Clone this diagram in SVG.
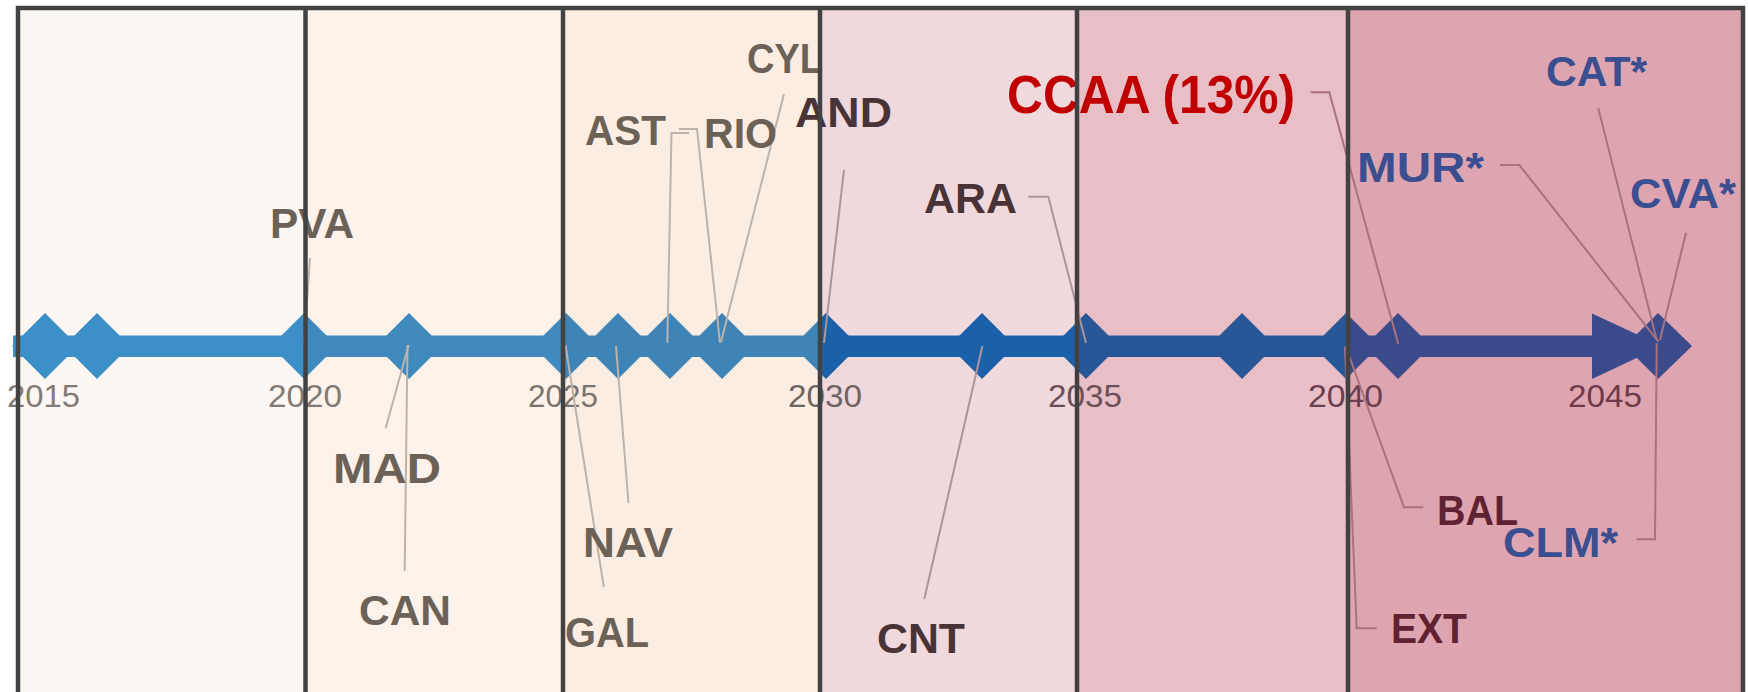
<svg xmlns="http://www.w3.org/2000/svg" width="1748" height="692" viewBox="0 0 1748 692">
<style>
.yr{font-family:"Liberation Sans",Arial,sans-serif;font-size:31px;}
.lb{font-family:"Liberation Sans",Arial,sans-serif;font-size:43px;font-weight:bold;}
.g1{fill:#6b6157}.g2{fill:#4a3337}.g3{fill:#5e2232}.bl{fill:#3a4e90}.rd{fill:#c00000}
.ld{fill:none;stroke-width:2;stroke-linejoin:miter}
.l1{stroke:#bcb3aa}.l2{stroke:#a9959a}.l3{stroke:#a8727f}
.frame{fill:none;stroke:#424242;stroke-width:4.5}
</style>
<defs>
<linearGradient id="tl" gradientUnits="userSpaceOnUse" x1="0" y1="0" x2="1748" y2="0">
<stop offset="0" stop-color="#3d8fc7"/><stop offset="0.1748" stop-color="#3d8fc7"/>
<stop offset="0.1748" stop-color="#3f89bd"/><stop offset="0.3221" stop-color="#3f89bd"/>
<stop offset="0.3221" stop-color="#3e84b6"/><stop offset="0.4691" stop-color="#3e84b6"/>
<stop offset="0.4691" stop-color="#1a61aa"/><stop offset="0.6161" stop-color="#1a61aa"/>
<stop offset="0.6161" stop-color="#285798"/><stop offset="0.7712" stop-color="#285798"/>
<stop offset="0.7712" stop-color="#3a4a8a"/><stop offset="1" stop-color="#3a4a8a"/>
</linearGradient>
</defs>
<rect x="0" y="0" width="1748" height="692" fill="#ffffff"/>
<g id="panels">
<rect x="18" y="8" width="287.5" height="700" fill="#fdf7f3"/>
<rect x="305.5" y="8" width="257.5" height="700" fill="#fdf2e9"/>
<rect x="563" y="8" width="257" height="700" fill="#fcede2"/>
<rect x="820" y="8" width="257" height="700" fill="#f0d9dd"/>
<rect x="1077" y="8" width="271" height="700" fill="#e8bfc6"/>
<rect x="1348" y="8" width="395" height="700" fill="#dea5b0"/>
</g>
<g id="timeline" fill="url(#tl)">
<rect x="13" y="335.5" width="1580" height="21.5"/>
<polygon points="12,346 45,313 78,346 45,379"/>
<polygon points="64,346 97,313 130,346 97,379"/>
<polygon points="271,346 304,313 337,346 304,379"/>
<polygon points="376,346 409,313 442,346 409,379"/>
<polygon points="533,346 566,313 599,346 566,379"/>
<polygon points="585,346 618,313 651,346 618,379"/>
<polygon points="637,346 670,313 703,346 670,379"/>
<polygon points="689,346 722,313 755,346 722,379"/>
<polygon points="793,346 826,313 859,346 826,379"/>
<polygon points="949,346 982,313 1015,346 982,379"/>
<polygon points="1053,346 1086,313 1119,346 1086,379"/>
<polygon points="1209,346 1242,313 1275,346 1242,379"/>
<polygon points="1313,346 1346,313 1379,346 1346,379"/>
<polygon points="1365,346 1398,313 1431,346 1398,379"/>
<polygon points="1592,313.5 1662,346 1592,379"/>
<polygon points="1625,346 1658,313 1692,346 1658,379"/>
</g>
<g id="years" class="yr">
<text x="7" y="407" textLength="73" lengthAdjust="spacingAndGlyphs" fill="#807b77">2015</text>
<text x="268" y="407" textLength="74" lengthAdjust="spacingAndGlyphs" fill="#807a75">2020</text>
<text x="528" y="407" textLength="70" lengthAdjust="spacingAndGlyphs" fill="#7b746e">2025</text>
<text x="788" y="407" textLength="74" lengthAdjust="spacingAndGlyphs" fill="#6e6462">2030</text>
<text x="1048" y="407" textLength="74" lengthAdjust="spacingAndGlyphs" fill="#6b4f56">2035</text>
<text x="1308" y="407" textLength="75" lengthAdjust="spacingAndGlyphs" fill="#6a4050">2040</text>
<text x="1568" y="407" textLength="74" lengthAdjust="spacingAndGlyphs" fill="#6e3a4c">2045</text>
</g>
<g id="connectors">
<polyline class="ld l1" points="310,258 304,345"/>
<polyline class="ld l1" points="385.7,428 408.7,345"/>
<polyline class="ld l1" points="404.7,571 407.5,345"/>
<polyline class="ld l1" points="628.5,503 616,346"/>
<polyline class="ld l1" points="603.8,587 565.4,345"/>
<polyline class="ld l1" points="667.3,343 671.5,133 689,133"/>
<polyline class="ld l1" points="679,129 697,129 720,343"/>
<polyline class="ld l1" points="784,94 721,342"/>
<polyline class="ld l2" points="844,170 824,343"/>
<polyline class="ld l2" points="924.3,599 982.4,346"/>
<polyline class="ld l2" points="1028.3,196.7 1048.3,196.7 1086,343"/>
<polyline class="ld l3" points="1310.7,92.3 1329.3,92.3 1398.3,344"/>
<polyline class="ld l3" points="1500,165 1519.3,165 1658.3,341.7"/>
<polyline class="ld l3" points="1598.3,108.3 1656.7,340"/>
<polyline class="ld l3" points="1686,232.7 1660,340"/>
<polyline class="ld l3" points="1423.3,507.3 1404,507.3 1347,350"/>
<polyline class="ld l3" points="1636.7,539.3 1655,539.3 1656.7,343.3"/>
<polyline class="ld l3" points="1376.7,628.3 1356.7,628.3 1345,346.7"/>
</g>
<g id="PVA"><text class="lb g1" x="270" y="238" textLength="84" lengthAdjust="spacingAndGlyphs">PVA</text></g>
<g id="MAD"><text class="lb g1" x="333" y="483" textLength="108" lengthAdjust="spacingAndGlyphs">MAD</text></g>
<g id="CAN"><text class="lb g1" x="359" y="625" textLength="92" lengthAdjust="spacingAndGlyphs">CAN</text></g>
<g id="NAV"><text class="lb g1" x="583" y="557" textLength="90" lengthAdjust="spacingAndGlyphs">NAV</text></g>
<g id="GAL"><text class="lb g1" x="565" y="647" textLength="84" lengthAdjust="spacingAndGlyphs">GAL</text></g>
<g id="AST"><text class="lb g1" x="585" y="145" textLength="81" lengthAdjust="spacingAndGlyphs">AST</text></g>
<g id="RIO"><text class="lb g1" x="704" y="148" textLength="73" lengthAdjust="spacingAndGlyphs">RIO</text></g>
<g id="CYL"><text class="lb g1" x="747" y="73" textLength="76" lengthAdjust="spacingAndGlyphs">CYL</text></g>
<g id="AND"><text class="lb g2" x="795" y="127" textLength="97" lengthAdjust="spacingAndGlyphs">AND</text></g>
<g id="ARA"><text class="lb g2" x="924" y="213" textLength="93" lengthAdjust="spacingAndGlyphs">ARA</text></g>
<g id="CNT"><text class="lb g2" x="877" y="653" textLength="88" lengthAdjust="spacingAndGlyphs">CNT</text></g>
<g id="CCAA"><text class="lb rd" x="1007" y="113" style="font-size:53px" textLength="288" lengthAdjust="spacingAndGlyphs">CCAA (13%)</text></g>
<g id="MUR"><text class="lb bl" x="1357" y="182" textLength="127" lengthAdjust="spacingAndGlyphs">MUR*</text></g>
<g id="CAT"><text class="lb bl" x="1546" y="86" textLength="101" lengthAdjust="spacingAndGlyphs">CAT*</text></g>
<g id="CVA"><text class="lb bl" x="1630" y="208" textLength="106" lengthAdjust="spacingAndGlyphs">CVA*</text></g>
<g id="BAL"><text class="lb g3" x="1437" y="525" textLength="81" lengthAdjust="spacingAndGlyphs">BAL</text></g>
<g id="CLM"><text class="lb bl" x="1503" y="557" textLength="115" lengthAdjust="spacingAndGlyphs">CLM*</text></g>
<g id="EXT"><text class="lb g3" x="1391" y="643" textLength="76" lengthAdjust="spacingAndGlyphs">EXT</text></g>
<g id="frame" class="frame">
<path d="M18,700 V8 H1743 V700"/>
<line x1="305.5" y1="8" x2="305.5" y2="700"/>
<line x1="563" y1="8" x2="563" y2="700"/>
<line x1="820" y1="8" x2="820" y2="700"/>
<line x1="1077" y1="8" x2="1077" y2="700"/>
<line x1="1348" y1="8" x2="1348" y2="700"/>
</g>
</svg>
